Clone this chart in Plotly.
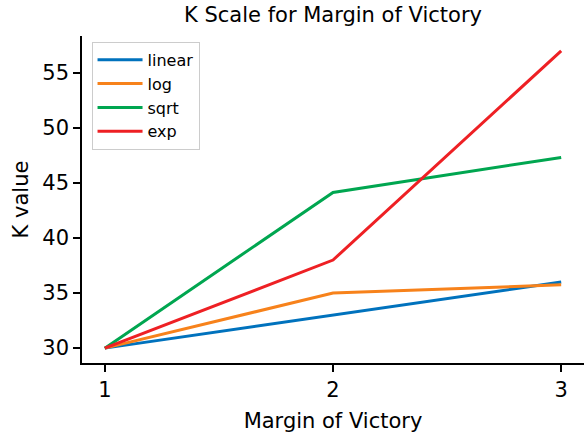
import plotly.graph_objects as go

# Margin of victory values and the K factor produced by each scaling rule
margin = [1, 2, 3]
k_linear = [30, 33, 36]
k_log = [30, 35, 35.75]
k_sqrt = [30, 44.14, 47.32]
k_exp = [30, 38, 57]

series = [
    ("linear", k_linear, "#0072BD"),
    ("log", k_log, "#F7821B"),
    ("sqrt", k_sqrt, "#00A650"),
    ("exp", k_exp, "#EE2024"),
]

FONT = "DejaVu Sans"

fig = go.Figure()
for name, vals, color in series:
    fig.add_trace(go.Scatter(
        x=margin, y=vals, name=name, mode="lines",
        line=dict(color=color, width=3),
    ))

fig.update_layout(
    width=584, height=437,
    margin=dict(l=82, r=0, t=36, b=74),
    paper_bgcolor="white", plot_bgcolor="white",
    font=dict(family=FONT, color="black"),
    title=dict(
        text="K Scale for Margin of Victory",
        x=0.5, xref="paper", xanchor="center",
        y=1 - 15 / 437, yref="container", yanchor="middle",
        font=dict(size=21, family=FONT),
    ),
    legend=dict(
        x=0.019, y=0.982, xanchor="left", yanchor="top",
        bgcolor="rgba(255,255,255,0.85)", bordercolor="#cccccc", borderwidth=1,
        font=dict(size=16, family=FONT),
        itemwidth=45,
        tracegroupgap=0,
    ),
    showlegend=True,
)

fig.update_xaxes(
    range=[0.9, 3.1], tickvals=[1, 2, 3], ticktext=["1", "2", "3"],
    showgrid=False, zeroline=False,
    showline=True, linecolor="black", linewidth=1.5,
    ticks="outside", ticklen=7, tickwidth=1.5, tickcolor="black",
    tickfont=dict(size=21, family=FONT),
    title=dict(text="Margin of Victory", font=dict(size=21, family=FONT), standoff=12),
)
fig.update_yaxes(
    range=[28.65, 58.35], tickvals=[30, 35, 40, 45, 50, 55],
    showgrid=False, zeroline=False,
    showline=True, linecolor="black", linewidth=1.5,
    ticks="outside", ticklen=7, tickwidth=1.5, tickcolor="black",
    tickfont=dict(size=21, family=FONT),
    title=dict(text="K value", font=dict(size=21, family=FONT), standoff=8),
)

fig.write_html("out.html")
